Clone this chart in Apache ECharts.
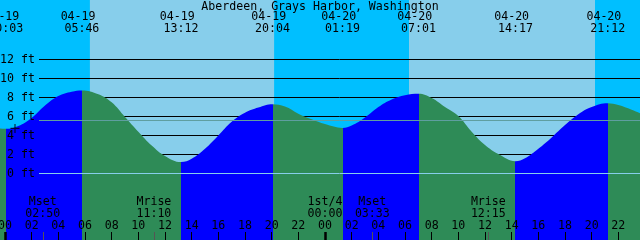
<!DOCTYPE html>
<html><head><meta charset="utf-8">
<script src="https://cdn.jsdelivr.net/npm/echarts@6/dist/echarts.min.js"></script>
<style>html,body{margin:0;padding:0;background:#00BFFF}#c{width:640px;height:240px}</style>
</head><body><div id="c"></div>
<script>
// ---------- data ----------
const chartTitle = 'Aberdeen, Grays Harbor, Washington';
const extremeDates = ['04-19','04-19','04-19','04-19','04-20','04-20','04-20','04-20'];
const extremeTimes = ['00:03','05:46','13:12','20:04','01:19','07:01','14:17','21:12'];
const extremeTypes = ['L','H','L','H','L','H','L','H'];
// tide level readings (hours from 04-19 00:00, feet)
const tideHours = [-1, 0.05, 1, 2, 3, 4, 5, 5.77, 7, 8, 9, 10, 11, 12, 13.2, 14, 15, 16, 17, 18, 19, 20.07,
  21, 22, 23, 24, 25.32, 26, 27, 28, 29, 30, 31.02, 32, 33, 34, 35, 36, 37, 38.28, 39, 40, 41, 42, 43, 44, 45.2, 46, 47, 48];
const tideFeet  = [4.85, 4.7, 5.0, 5.85, 7.15, 8.15, 8.6, 8.75, 8.35, 7.5, 5.95, 4.4, 2.95, 1.85, 1.2, 1.55, 2.6, 4.0, 5.45, 6.4, 6.95, 7.3,
  7.05, 6.3, 5.7, 5.2, 4.8, 5.05, 5.9, 7.0, 7.8, 8.25, 8.4, 7.95, 7.0, 6.05, 4.4, 3.0, 2.05, 1.3, 1.6, 2.6, 3.8, 5.1, 6.25, 7.0, 7.4, 7.2, 6.7, 6.1];
const sunDates = ['04-19','04-20'];
const sunriseTimes = ['06:22','06:18'];
const sunsetTimes = ['20:11','20:15'];
const moonNames = ['Mset','Mrise','1st/4','Mset','Mrise'];
const moonDates = ['04-19','04-19','04-20','04-20','04-20'];
const moonTimes = ['02:50','11:10','00:00','03:33','12:15'];
const hourTicks = [0,2,4,6,8,10,12,14,16,18,20,22,24,26,28,30,32,34,36,38,40,42,44,46];
const dayStarts = [0, 24];
const feetTicks = [0, 2, 4, 6, 8, 10, 12];
const meanLevel = 5.58;
const nowPoint = [0.75, 4.75];

// ---------- layout / style ----------
const W = 640, H = 240;
const xMin = -0.375, xMax = 47.625;
const zeroPx = 173.5, pxPerFt = 9.5;
const yMin = -(H - zeroPx) / pxPerFt, yMax = zeroPx / pxPerFt;
const FONT = 'DejaVu Sans Mono', FS = 11.6;
const NIGHT = '#00BFFF', DAY = '#87CEEB', RISE = '#0000FF', FALL = '#2E8B57';

const dayOffset = d => d === '04-20' ? 24 : 0;
const toH = (d, t) => { const [hh, mm] = t.split(':').map(Number); return dayOffset(d) + hh + mm / 60; };
const pad = n => (n < 10 ? '0' : '') + n;
const near = (arr, v) => arr.findIndex(a => Math.abs(a - v) < 1e-6);

const extremeHours = extremeDates.map((d, i) => toH(d, extremeTimes[i]));
const moonHours = moonDates.map((d, i) => toH(d, moonTimes[i]));
const dayPeriods = sunDates.map((d, i) => [toH(d, sunriseTimes[i]), toH(d, sunsetTimes[i])]);

const pieces = [];
pieces.push({ lt: extremeHours[0], color: extremeTypes[0] === 'L' ? FALL : RISE });
for (let i = 0; i < extremeHours.length - 1; i++) {
  pieces.push({ gte: extremeHours[i], lt: extremeHours[i + 1], color: extremeTypes[i] === 'L' ? RISE : FALL });
}
const lastI = extremeHours.length - 1;
pieces.push({ gte: extremeHours[lastI], color: extremeTypes[lastI] === 'L' ? RISE : FALL });

const txt = { fontFamily: FONT, fontSize: FS, color: '#000' };
const baseX = { type: 'value', min: xMin, max: xMax, gridIndex: 0, splitLine: { show: false }, axisLine: { show: false, onZero: false } };

const chart = echarts.init(document.getElementById('c'), null, { renderer: 'canvas' });
chart.setOption({
  animation: false,
  backgroundColor: NIGHT,
  textStyle: { fontFamily: FONT },
  title: { text: chartTitle, left: 'center', top: 0, padding: 0,
    textStyle: { fontFamily: FONT, fontSize: FS, fontWeight: 'normal', color: '#000', lineHeight: 13 } },
  grid: [
    { left: 0, right: 0, top: 0, bottom: 0, containLabel: false, outerBoundsMode: 'none' },
    { left: 39, right: 0, top: zeroPx - 12 * pxPerFt, bottom: H - zeroPx, containLabel: false, outerBoundsMode: 'none' }
  ],
  xAxis: [
    Object.assign({}, baseX, { position: 'bottom', z: 10,
      axisTick: { show: true, inside: true, length: 8, customValues: hourTicks, lineStyle: { color: '#000', width: 1 } },
      axisLabel: Object.assign({ inside: true, margin: 8, customValues: hourTicks, lineHeight: 12,
        formatter: v => pad(Math.round(v) % 24) }, txt) }),
    Object.assign({}, baseX, { position: 'bottom', z: 10,
      axisTick: { show: true, inside: true, length: 8, customValues: moonHours, lineStyle: { color: '#555', width: 1 } },
      axisLabel: Object.assign({ inside: true, margin: 20.5, customValues: moonHours, lineHeight: 11.6,
        formatter: v => { const i = near(moonHours, v); return i < 0 ? '' : moonNames[i] + '\n' + moonTimes[i]; } }, txt) }),
    Object.assign({}, baseX, { position: 'bottom', z: 10,
      axisTick: { show: true, inside: true, length: 8, customValues: dayStarts, lineStyle: { color: '#000', width: 2.5 } },
      axisLabel: { show: false } }),
    { type: 'value', gridIndex: 1, min: xMin, max: xMax, show: false, axisLine: { onZero: false } }
  ],
  yAxis: [
    { type: 'value', gridIndex: 0, min: yMin, max: yMax, show: false, axisLine: { onZero: false } },
    { type: 'value', gridIndex: 1, min: 0, max: 12, interval: 2, position: 'left', z: 1,
      axisLine: { show: false, onZero: false }, axisTick: { show: false }, axisLabel: { show: false },
      splitLine: { show: true, lineStyle: { color: '#000', width: 1 } } },
    { type: 'value', gridIndex: 1, min: 0, max: 12, interval: 2, position: 'left', z: 10,
      axisLine: { show: false, onZero: false }, axisTick: { show: false }, splitLine: { show: false },
      axisLabel: Object.assign({ margin: 4, formatter: '{value} ft' }, txt) }
  ],
  visualMap: [{ type: 'piecewise', show: false, seriesIndex: 1, dimension: 0, pieces: pieces }],
  series: [
    { type: 'custom', z: 0, silent: true, xAxisIndex: 0, yAxisIndex: 0,
      data: dayPeriods, encode: { x: [0, 1] },
      renderItem: (params, api) => {
        const x0 = api.coord([api.value(0), 0])[0];
        const x1 = api.coord([api.value(1), 0])[0];
        const cs = params.coordSys;
        return { type: 'rect', shape: { x: x0, y: cs.y, width: x1 - x0, height: cs.height }, style: { fill: DAY } };
      } },
    { type: 'line', z: 2, silent: true, xAxisIndex: 0, yAxisIndex: 0,
      data: tideHours.map((h, i) => [h, tideFeet[i]]),
      smooth: 0.4, symbol: 'none', showSymbol: false,
      lineStyle: { width: 0, opacity: 0 },
      areaStyle: { origin: 'start', opacity: 1 } },
    { type: 'line', z: 4, silent: true, xAxisIndex: 3, yAxisIndex: 1, data: [],
      markLine: { silent: true, symbol: 'none', label: { show: false }, animation: false,
        data: [
          { yAxis: 0, lineStyle: { color: DAY, type: 'solid', width: 1 } },
          { yAxis: meanLevel, lineStyle: { color: '#5F9EA0', type: 'solid', width: 1 } }
        ] } },
    { type: 'scatter', z: 6, silent: true, xAxisIndex: 0, yAxisIndex: 0,
      data: [nowPoint], symbol: 'path://M3.5,0h1v3.5h3.5v1h-3.5v3.5h-1v-3.5h-3.5v-1h3.5z', symbolSize: 9,
      itemStyle: { color: '#000' } },
    { type: 'custom', z: 10, silent: true, xAxisIndex: 0, yAxisIndex: 0,
      data: extremeHours.map((h, i) => [h, i]), encode: { x: 0 },
      renderItem: (params, api) => {
        const i = api.value(1);
        const x = api.coord([api.value(0), 0])[0];
        const st = { fontFamily: FONT, fontSize: FS, fill: '#000', align: 'center', verticalAlign: 'middle' };
        return { type: 'group', children: [
          { type: 'text', x: x - 3.8, y: 16.7, style: Object.assign({ text: extremeDates[i] }, st) },
          { type: 'text', x: x, y: 29.3, style: Object.assign({ text: extremeTimes[i] }, st) }
        ] };
      } }
  ]
});
</script></body></html>
